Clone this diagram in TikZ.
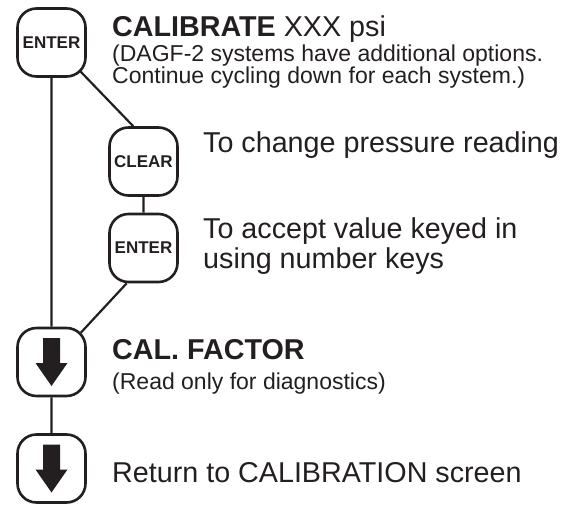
\documentclass[tikz,border=0pt]{standalone}
\usepackage{fontspec}
\setmainfont{Liberation Sans}
\usetikzlibrary{positioning, calc}
\definecolor{ink}{RGB}{35,31,32}

\newcommand{\bigtext}{\fontsize{28.7}{30}\selectfont}
\newcommand{\smalltext}{\fontsize{23}{22}\selectfont}

\tikzset{
  key/.style={draw=ink, line width=2.6pt, rounded corners=19pt,
    minimum width=68pt, minimum height=68pt, inner sep=0pt,
    font=\fontsize{17}{17}\selectfont\bfseries, text=ink},
  wire/.style={draw=ink, line width=2.2pt},
  say/.style={anchor=base west, inner sep=0pt, text=ink, align=left},
  downglyph/.pic={
    \fill[ink] (-8.5,24) -- (8.5,24) -- (8.5,-1) -- (16,-1) -- (0,-24)
      -- (-16,-1) -- (-8.5,-1) -- cycle;
  }
}

\begin{document}
\begin{tikzpicture}[x=1pt,y=1pt,on grid]
  \useasboundingbox (0,0) rectangle (580,504);

  \node[key] (enter1) at (51.5,461.5) {ENTER};
  \node[key] (clear) [below right=119pt and 92pt of enter1] {CLEAR};
  \node[key] (enter2) [below=86.5pt of clear] {ENTER};
  \node[key] (down1) [below=319.5pt of enter1] {};
  \node[key] (down2) [below=106.5pt of down1] {};
  \pic at (down1) {downglyph};
  \pic at (down2) {downglyph};

  \path[wire]
    (enter1) -- (down1)
    (down1) -- (down2)
    (clear) -- (enter2)
    ($(enter1.south east)+(-6,6)$) -- ($(clear.north west)+(25,0)$)
    ($(enter2.south west)+(18.5,0)$) -- ($(down1.north east)+(-6,-6)$);

  % texts (multi-line nodes sit on their last baseline)
  \node[say, font=\bigtext] (calib) at (112,467) {\textbf{CALIBRATE} XXX psi};
  \node[say, font=\smalltext] (dagf) at (112,420)
    {(DAGF-2 systems have additional options.\\Continue cycling down for each system.)};
  \node[say, font=\bigtext] (change) at (203,351) {To change pressure reading};
  \node[say, font=\bigtext] (accept) at (203,236)
    {To accept value keyed in\\using number keys};
  \node[say, font=\bigtext\bfseries] (factor) at (112,145) {CAL. FACTOR};
  \node[say, font=\smalltext] (diag) at (112,115) {(Read only for diagnostics)};
  \node[say, font=\bigtext] (back) at (112,21.5) {Return to CALIBRATION screen};
\end{tikzpicture}
\end{document}
